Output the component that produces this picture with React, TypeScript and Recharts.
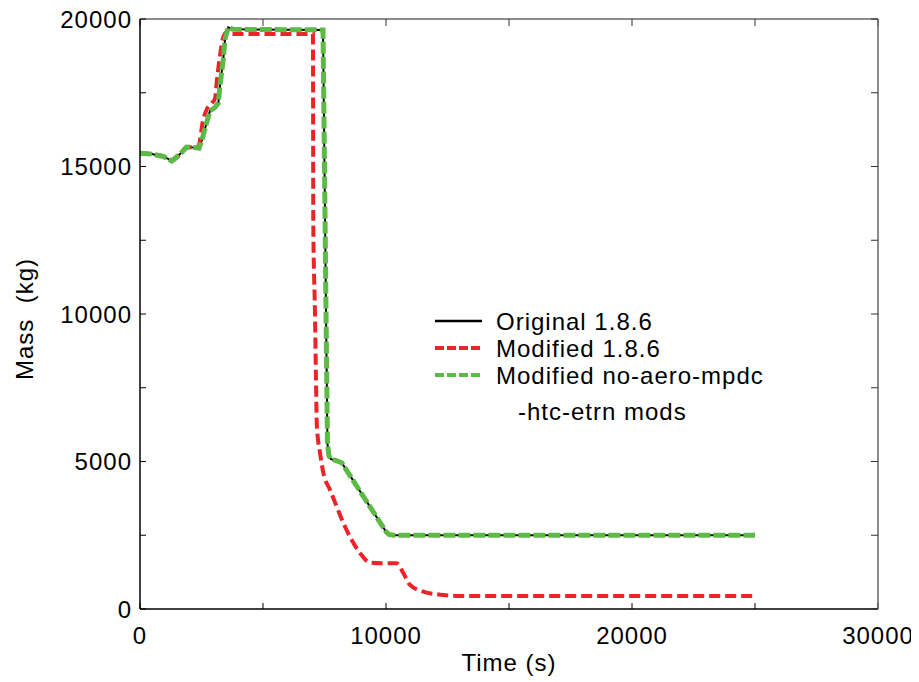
import React from 'react';
import { LineChart, Line, XAxis, YAxis, Legend } from 'recharts';

const FONT = '"Liberation Sans", Arial, Helvetica, sans-serif';

// Axis ticks
const xTicks = [0, 5000, 10000, 15000, 20000, 25000, 30000];
const xLabelTicks = [0, 10000, 20000, 30000];
const yTicks = [0, 2500, 5000, 7500, 10000, 12500, 15000, 17500, 20000];
const yLabelTicks = [0, 5000, 10000, 15000, 20000];

// Series names
const seriesNames = ['Original 1.8.6', 'Modified 1.8.6', 'Modified no-aero-mpdc'];
const seriesNameCont = '-htc-etrn mods';

// Original 1.8.6
const origTime = [0, 475, 950, 1290, 1626, 1900, 2236, 2400, 2508, 2711, 2846, 3049, 3183, 3252, 3386, 3455, 3589, 3780, 7440, 7520, 7560, 7620, 7680, 7760, 7950, 8200, 10000, 10120, 10300, 25000];
const origMass = [15450, 15420, 15340, 15190, 15420, 15660, 15640, 15620, 15870, 16490, 16890, 17000, 17150, 17740, 18640, 19320, 19720, 19650, 19630, 13400, 10150, 5600, 5200, 5080, 5040, 4960, 2620, 2530, 2500, 2500];

// Modified 1.8.6
const modTime = [0, 475, 950, 1290, 1626, 1900, 2236, 2380, 2560, 2720, 2915, 3050, 3118, 3252, 3362, 3524, 3700, 7030, 7045, 7110, 7150, 7190, 7317, 7451, 7724, 7996, 8264, 8606, 8943, 9350, 9825, 10435, 10703, 10976, 11516, 12329, 13008, 25000];
const modMass = [15450, 15420, 15340, 15190, 15420, 15660, 15640, 15700, 16550, 16950, 17150, 17300, 17860, 18760, 19320, 19550, 19490, 19490, 13000, 10150, 8000, 6200, 5300, 4620, 4040, 3475, 2920, 2340, 1900, 1573, 1550, 1550, 1220, 815, 590, 475, 440, 440];

// Modified no-aero-mpdc-htc-etrn mods
const noAeroTime = [0, 475, 950, 1290, 1626, 1900, 2236, 2400, 2508, 2711, 2846, 3049, 3183, 3252, 3386, 3455, 3589, 3780, 7440, 7520, 7560, 7620, 7680, 7760, 7950, 8200, 10000, 10120, 10300, 25000];
const noAeroMass = [15450, 15420, 15340, 15190, 15420, 15660, 15640, 15620, 15870, 16490, 16890, 17000, 17150, 17740, 18640, 19320, 19720, 19650, 19630, 13400, 10150, 5600, 5200, 5080, 5040, 4960, 2620, 2530, 2500, 2500];

const toRows = (t: number[], m: number[]) => t.map((v, i) => ({ t: v, m: m[i] }));

const origData = toRows(origTime, origMass);
const modData = toRows(modTime, modMass);
const noAeroData = toRows(noAeroTime, noAeroMass);

const textStyle = { fontFamily: FONT, fontSize: 24, letterSpacing: 1, fill: '#000' } as any;

const XTick = (props: any) => {
  const { x, y, payload } = props;
  if (!xLabelTicks.includes(payload.value)) return <g />;
  return (
    <text x={x} y={y} dy="0.71em" textAnchor="middle" style={textStyle}>
      {payload.value}
    </text>
  );
};

const YTick = (props: any) => {
  const { x, y, payload } = props;
  if (!yLabelTicks.includes(payload.value)) return <g />;
  return (
    <text x={x} y={y} dy="0.355em" textAnchor="end" style={textStyle}>
      {payload.value}
    </text>
  );
};

const NoTick = () => <g />;

const YTitle = (p: any) => {
  const vb = p.viewBox || { x: 0, y: 12, width: 132, height: 589 };
  const cx = vb.x + 16;
  const cy = vb.y + vb.height / 2 + 5;
  return (
    <text
      x={cx}
      y={cy}
      transform={`rotate(-90 ${cx} ${cy})`}
      textAnchor="middle"
      dy="0.355em"
      style={{ ...textStyle, whiteSpace: 'pre' }}
    >
      {'Mass  (kg)'}
    </text>
  );
};

const swatches = [
  { color: '#000000', dash: undefined, w: 2.5 },
  { color: '#ee2229', dash: '9 3', w: 4 },
  { color: '#5dba47', dash: '9 3', w: 4 },
];

const LegendContent = () => (
  <div style={{ fontFamily: FONT, fontSize: 24, letterSpacing: 1, color: '#000' }}>
    {seriesNames.map((n, i) => (
      <div key={n} style={{ display: 'flex', alignItems: 'center', height: 27 }}>
        <svg width={47} height={8} style={{ marginRight: 14, flex: 'none' }}>
          <line x1={0} y1={4} x2={47} y2={4} stroke={swatches[i].color} strokeWidth={swatches[i].w} strokeDasharray={swatches[i].dash} />
        </svg>
        <span style={{ whiteSpace: 'nowrap', lineHeight: '27px' }}>{n}</span>
      </div>
    ))}
    <div style={{ height: 27, lineHeight: '27px', marginTop: 9, paddingLeft: 83, whiteSpace: 'nowrap' }}>{seriesNameCont}</div>
  </div>
);

export default function App() {
  return (
    <div style={{ width: 911, height: 674, position: 'relative', background: '#fff' }}>
      <LineChart width={911} height={674} margin={{ top: 11, right: 41, bottom: 3, left: 0 }}>
        <XAxis
          xAxisId="bottom"
          type="number"
          dataKey="t"
          domain={[0, 30000]}
          ticks={xTicks}
          allowDataOverflow
          tickSize={-6}
          tickMargin={24}
          height={70}
          axisLine={{ stroke: '#000', strokeWidth: 1.5 }}
          tickLine={{ stroke: '#000', strokeWidth: 1 }}
          tick={<XTick />}
          label={{ value: 'Time (s)', position: 'insideBottom', offset: 8, style: textStyle }}
        />
        <XAxis
          xAxisId="top"
          orientation="top"
          type="number"
          dataKey="t"
          domain={[0, 30000]}
          ticks={xTicks}
          allowDataOverflow
          mirror
          tickSize={7}
          height={1}
          axisLine={{ stroke: '#666', strokeWidth: 1.5 }}
          tickLine={{ stroke: '#333', strokeWidth: 1 }}
          tick={<NoTick />}
        />
        <YAxis
          yAxisId="left"
          type="number"
          domain={[0, 20000]}
          ticks={yTicks}
          allowDataOverflow
          tickSize={-6}
          tickMargin={14}
          width={132}
          axisLine={{ stroke: '#000', strokeWidth: 1.5 }}
          tickLine={{ stroke: '#000', strokeWidth: 1 }}
          tick={<YTick />}
          label={{ content: YTitle }}
        />
        <YAxis
          yAxisId="right"
          orientation="right"
          type="number"
          domain={[0, 20000]}
          ticks={yTicks}
          allowDataOverflow
          mirror
          tickSize={7}
          width={1}
          axisLine={{ stroke: '#666', strokeWidth: 1.5 }}
          tickLine={{ stroke: '#333', strokeWidth: 1 }}
          tick={<NoTick />}
        />
        <Line
          data={origData}
          dataKey="m"
          name={seriesNames[0]}
          xAxisId="bottom"
          yAxisId="left"
          type="linear"
          stroke="#000"
          strokeWidth={2}
          dot={false}
          isAnimationActive={false}
        />
        <Line
          data={modData}
          dataKey="m"
          name={seriesNames[1]}
          xAxisId="top"
          yAxisId="right"
          type="monotone"
          stroke="#ee2229"
          strokeWidth={4}
          strokeDasharray="11 5"
          dot={false}
          isAnimationActive={false}
        />
        <Line
          data={noAeroData}
          dataKey="m"
          name={seriesNames[2]}
          xAxisId="bottom"
          yAxisId="left"
          type="linear"
          stroke="#5dba47"
          strokeWidth={5}
          strokeDasharray="12 3"
          dot={false}
          isAnimationActive={false}
        />
        <Legend
          layout="vertical"
          align="center"
          verticalAlign="middle"
          content={<LegendContent />}
          wrapperStyle={{ position: 'absolute', left: 427, top: 299.5, width: 'auto', height: 'auto' }}
        />
      </LineChart>
    </div>
  );
}
